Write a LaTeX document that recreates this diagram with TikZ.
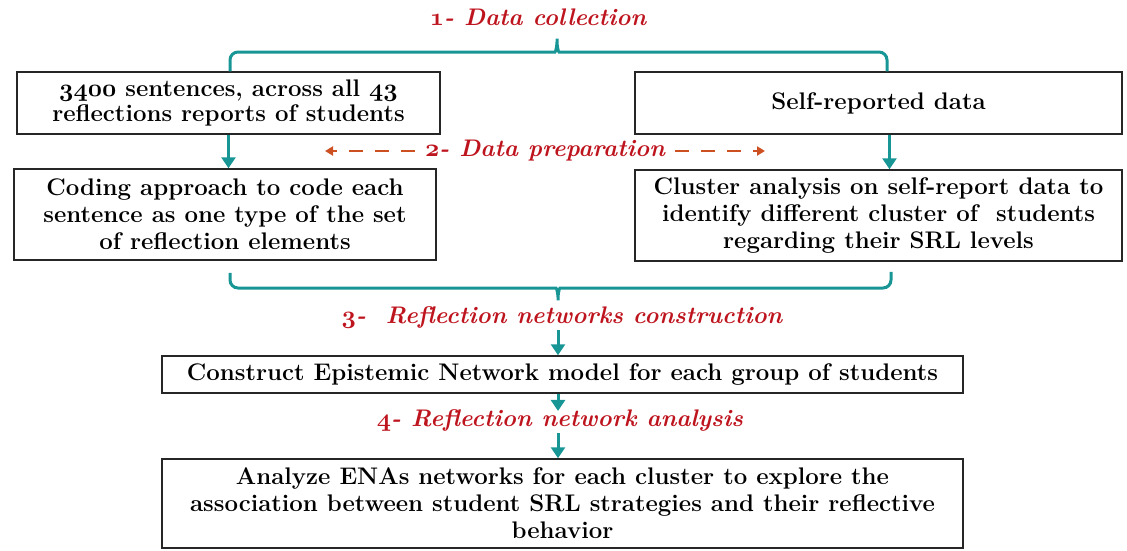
\documentclass[tikz,border=0pt]{standalone}
\usepackage{tikz}
\usetikzlibrary{positioning, arrows.meta, calc}
\definecolor{tealline}{RGB}{24,150,150}
\definecolor{stagered}{RGB}{190,20,30}
\definecolor{prepdash}{RGB}{205,80,35}
% bold old-style figures
\newcommand\osn[1]{{\usefont{OML}{cmm}{b}{it}#1}}

\begin{document}
\begin{tikzpicture}[
	x=1pt, y=-1pt,
	box/.style={draw=black!85, line width=1.5pt, align=center, inner sep=3pt,
		font=\fontsize{24}{27}\selectfont\bfseries},
	stage/.style={text=stagered, inner sep=2pt, font=\fontsize{24}{25}\selectfont\bfseries\itshape},
	flow/.style={draw=tealline, line width=3pt, -{Triangle[width=14pt, length=11pt]}},
	brace/.style={draw=tealline, line width=3pt, rounded corners=8pt},
	prep/.style={draw=prepdash, line width=2.5pt, dash pattern=on 14pt off 12pt,
		-{Triangle[width=9pt, length=8pt]}},
	]
	\useasboundingbox (0,0) rectangle (1127,550);
	
	% stage titles
	\node[stage] (collect) at (538,17) {\osn{1}- Data collection};
	\node[stage] (prep) at (545,151) {\osn{2}- Data preparation};
	\node[stage] (netcons) at (562,317) {\osn{3}-\ \ Reflection networks construction};
	\node[stage] (netanal) at (560,420) {\osn{4}- Reflection network analysis};
	
	% boxes
	\node[box, minimum width=423, minimum height=62, font=\fontsize{24}{25}\selectfont\bfseries] (sent) at (228.5,103)
		{\osn{3400} sentences, across all \osn{43}\\reflections reports of students};
	\node[box, minimum width=487, minimum height=62] (selfrep) at (878.5,103) {Self-reported data};
	\node[box, minimum width=422, minimum height=91] (coding) at (225,214.5)
		{Coding approach to code each\\sentence as one type of the set\\of reflection elements};
	\node[box, minimum width=487, minimum height=91] (cluster) at (878.5,215.5)
		{Cluster analysis on self-report data to\\identify different cluster of\ \ students\\regarding their SRL levels};
	\node[box, minimum width=801, minimum height=37] (construct) at (562.5,374.5)
		{Construct Epistemic Network model for each group of students};
	\node[box, minimum width=801, minimum height=89] (analyze) at (562.5,503.5)
		{Analyze ENAs networks for each cluster to explore the\\association between student SRL strategies and their reflective\\behavior};
	
	\coordinate (ctip) at (557,34);
	\coordinate (ntip) at (558,305);
	\coordinate (rx) at ([xshift=11pt]selfrep.south);
	\coordinate (prepL) at (325,151);
	\coordinate (prepR) at (765,151);
	
	% brace over the first row
	\draw[brace] ([xshift=1.5pt]sent.north) |- ($(ctip)+(-10,18)$)
		.. controls ($(ctip)+(-1,18)$) and ($(ctip)+(0,10)$) .. (ctip)
		.. controls ($(ctip)+(0,10)$) and ($(ctip)+(1,18)$) .. ($(ctip)+(10,18)$)
		-| ([xshift=8.5pt]selfrep.north);
	
	% brace under the second row
	\draw[brace] ([xshift=5pt, yshift=-12pt]coding.south) |- ($(ntip)+(-10,-17)$)
		.. controls ($(ntip)+(-1,-17)$) and ($(ntip)+(0,-9)$) .. (ntip)
		.. controls ($(ntip)+(0,-9)$) and ($(ntip)+(1,-17)$) .. ($(ntip)+(10,-17)$)
		-| ([xshift=12.5pt, yshift=-10pt]cluster.south);
	
	% arrows
	\draw[flow] (sent.south) -- (sent.south |- coding.north);
	\draw[flow] (rx) -- (rx |- cluster.north);
	\draw[flow] (netcons.south -| ntip) -- (construct.north -| ntip);
	\draw[flow] (construct.south -| ntip) -- ([yshift=-4pt]netanal.north -| ntip);
	\draw[flow] (netanal.south -| ntip) -- (analyze.north -| ntip);
	
	\draw[prep] ([xshift=-8pt]prep.west) -- (prepL);
	\draw[prep] ([xshift=8pt]prep.east) -- (prepR);
\end{tikzpicture}
\end{document}
